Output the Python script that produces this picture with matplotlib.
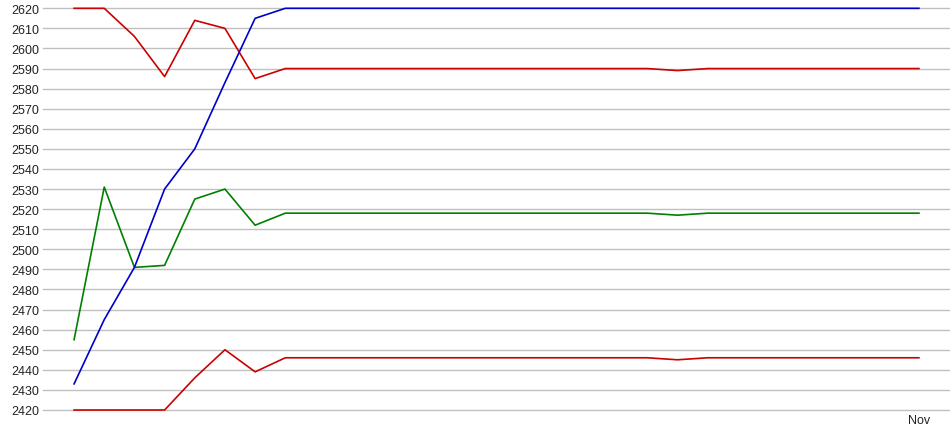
import matplotlib
matplotlib.use("Agg")
import matplotlib.pyplot as plt

plt.rcParams['font.family'] = ['Liberation Sans', 'DejaVu Sans']

# values, 29 points each
red_high = [2620, 2620, 2606, 2586, 2614, 2610, 2585, 2590] + [2590] * 12 + [2589] + [2590] * 8
blue = [2433, 2465, 2491, 2530, 2550, 2583, 2615, 2620] + [2620] * 21
green = [2455, 2531, 2491, 2492, 2525, 2530, 2512, 2518] + [2518] * 12 + [2517] + [2518] * 8
red_low = [2420, 2420, 2420, 2420, 2436, 2450, 2439, 2446] + [2446] * 12 + [2445] + [2446] * 8

x_ticks = [28]
x_labels = ['Nov']
y_ticks = list(range(2420, 2621, 10))

fig = plt.figure(figsize=(9.5, 4.35), dpi=100)
ax = fig.add_axes([43 / 950, 1 - 411 / 435, 907 / 950, (411 - 9.3) / 435])

xs = range(len(blue))
for ys, c in [(green, '#008000'), (red_low, '#cc0000'), (red_high, '#cc0000'), (blue, '#0000cc')]:
    ax.plot(xs, ys, color=c, lw=1.2, clip_on=False)

ax.set_xlim(-1.03, 29.03)
ax.set_ylim(2420, 2620)
ax.set_yticks(y_ticks)
ax.set_xticks(x_ticks)
ax.set_xticklabels(x_labels)
ax.grid(axis='y', color='#c0c0c0', lw=1)
for gl in ax.get_ygridlines():
    gl.set_clip_on(False)
ax.set_axisbelow(True)
for s in ax.spines.values():
    s.set_visible(False)
ax.tick_params(length=0, labelsize=9, colors='#222222', pad=3)

fig.savefig('out.png', dpi=100)
